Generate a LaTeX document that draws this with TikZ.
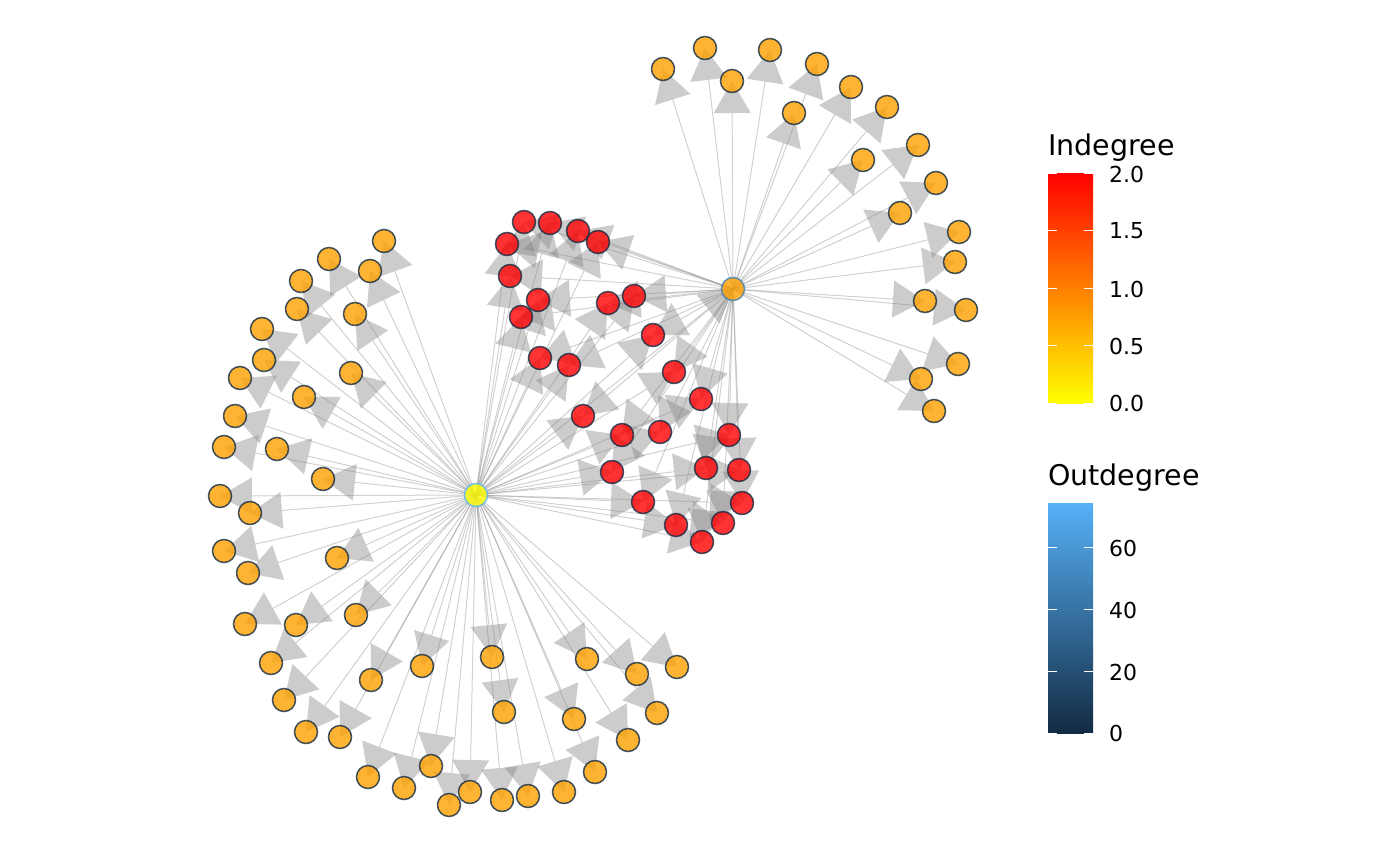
\documentclass[tikz,border=0pt]{standalone}
\usepackage{fontspec}
\setmainfont{DejaVu Sans}
\usetikzlibrary{arrows.meta}
\pgfdeclarelayer{bg}
\pgfsetlayers{bg,main}
\definecolor{inOne}{RGB}{255,160,0}
\definecolor{inTwo}{RGB}{255,0,0}
\definecolor{inZero}{RGB}{255,255,0}
\definecolor{outZero}{RGB}{19,43,67}
\definecolor{outMax}{RGB}{86,177,247}
\definecolor{outMid}{RGB}{64,127,181}
\definecolor{edgegray}{RGB}{128,128,128}
\tikzset{
  vert/.style={circle, minimum size=23pt, inner sep=0pt, line width=1.5pt, fill opacity=0.8, draw opacity=0.8},
  orangev/.style={vert, fill=inOne, draw=outZero},
  redv/.style={vert, fill=inTwo, draw=outZero},
  hubY/.style={vert, fill=inZero, draw=outMax},
  hubO/.style={vert, fill=inOne, draw=outMid},
  edge/.style={draw=edgegray, fill=edgegray, line width=1pt, draw opacity=0.32, fill opacity=0.4, -{Triangle[length=32pt,width=37pt,line width=0pt]}},
  legtitle/.style={anchor=base west, inner sep=0pt, font=\fontsize{28.5}{30}\selectfont},
  leglab/.style={anchor=west, inner sep=0pt, font=\fontsize{22}{24}\selectfont},
  tick/.style={draw=white, line width=1pt},
}
\begin{document}
\begin{tikzpicture}[x=1pt,y=-1pt]
\useasboundingbox (0,0) rectangle (1400,865);
% hubs
\node[hubY] (Y) at (476,495) {};
\node[hubO] (O) at (733,289) {};
% targets of O only
\foreach \n/\x/\y in {o1/663/69, o2/705/48, o3/732/81, o4/770/50, o5/817/64, o6/794/113, o7/851/87, o8/887/107, o9/863/160, o10/918/145, o11/936/183, o12/900/213, o13/959/232, o14/955/262, o15/925/301, o16/966/310, o17/958/364, o18/921/379, o19/934/411}
  \node[orangev] (\n) at (\x,\y) {};
% targets of both
\foreach \n/\x/\y in {r1/524/222, r2/550/223, r3/578/231, r4/598/242, r5/507/244, r6/510/276, r7/538/300, r8/521/317, r9/608/303, r10/634/296, r11/653/335, r12/540/358, r13/569/365, r14/674/372, r15/701/399, r16/583/416, r17/622/435, r18/660/432, r19/729/435, r20/612/472, r21/706/468, r22/739/470, r23/643/502, r24/742/503, r25/676/525, r26/723/523, r27/702/542}
  \node[redv] (\n) at (\x,\y) {};
% targets of Y only
\foreach \n/\x/\y in {y1/384/241, y2/329/259, y3/370/271, y4/301/281, y5/297/309, y6/355/314, y7/262/329, y8/264/360, y9/351/373, y10/240/378, y11/304/397, y12/235/416, y13/224/447, y14/277/449, y15/323/479, y16/220/496, y17/250/513, y18/224/551, y19/248/573, y20/337/558, y21/245/624, y22/296/625, y23/356/615, y24/271/663, y25/371/680, y26/422/666, y27/284/700, y28/306/732, y29/340/737, y30/368/777, y31/404/788, y32/431/766, y33/449/805, y34/470/792, y35/502/800, y36/528/796, y37/564/792, y38/595/772, y39/492/657, y40/504/712, y41/587/659, y42/637/674, y43/677/667, y44/657/713, y45/574/719, y46/628/740}
  \node[orangev] (\n) at (\x,\y) {};
% edges
\begin{pgfonlayer}{bg}
\draw[edge] (Y.center) -- (O.center);
\foreach \n in {y1,y2,y3,y4,y5,y6,y7,y8,y9,y10,y11,y12,y13,y14,y15,y16,y17,y18,y19,y20,y21,y22,y23,y24,y25,y26,y27,y28,y29,y30,y31,y32,y33,y34,y35,y36,y37,y38,y39,y40,y41,y42,y43,y44,y45,y46}
  \draw[edge] (Y.center) -- (\n.center);
\foreach \n in {r1,r2,r3,r4,r5,r6,r7,r8,r9,r10,r11,r12,r13,r14,r15,r16,r17,r18,r19,r20,r21,r22,r23,r24,r25,r26,r27}
  {\draw[edge] (Y.center) -- (\n.center);
   \draw[edge] (O.center) -- (\n.center);}
\foreach \n in {o1,o2,o3,o4,o5,o6,o7,o8,o9,o10,o11,o12,o13,o14,o15,o16,o17,o18,o19}
  \draw[edge] (O.center) -- (\n.center);
\end{pgfonlayer}
% legend: Indegree
\node[legtitle] (tIn) at (1048,155) {Indegree};
\shade[top color=inTwo, middle color=inOne, bottom color=inZero] (1048,173) rectangle (1093,403);
\foreach \yy in {173,230.5,288,345.5,403}
  {\draw[tick] (1048,\yy) -- (1057,\yy); \draw[tick] (1084,\yy) -- (1093,\yy);}
\node[leglab] (i20) at (1109,174) {2.0};
\node[leglab] (i15) at (1109,231) {1.5};
\node[leglab] (i10) at (1109,289) {1.0};
\node[leglab] (i05) at (1109,346) {0.5};
\node[leglab] (i00) at (1109,403) {0.0};
% legend: Outdegree
\node[legtitle] (tOut) at (1048,485) {Outdegree};
\shade[top color=outMax, bottom color=outZero] (1048,503) rectangle (1093,733);
\foreach \yy in {547,609,671,733}
  {\draw[tick] (1048,\yy) -- (1057,\yy); \draw[tick] (1084,\yy) -- (1093,\yy);}
\node[leglab] (u60) at (1109,548) {60};
\node[leglab] (u40) at (1109,610) {40};
\node[leglab] (u20) at (1109,672) {20};
\node[leglab] (u00) at (1109,733) {0};
\end{tikzpicture}
\end{document}
